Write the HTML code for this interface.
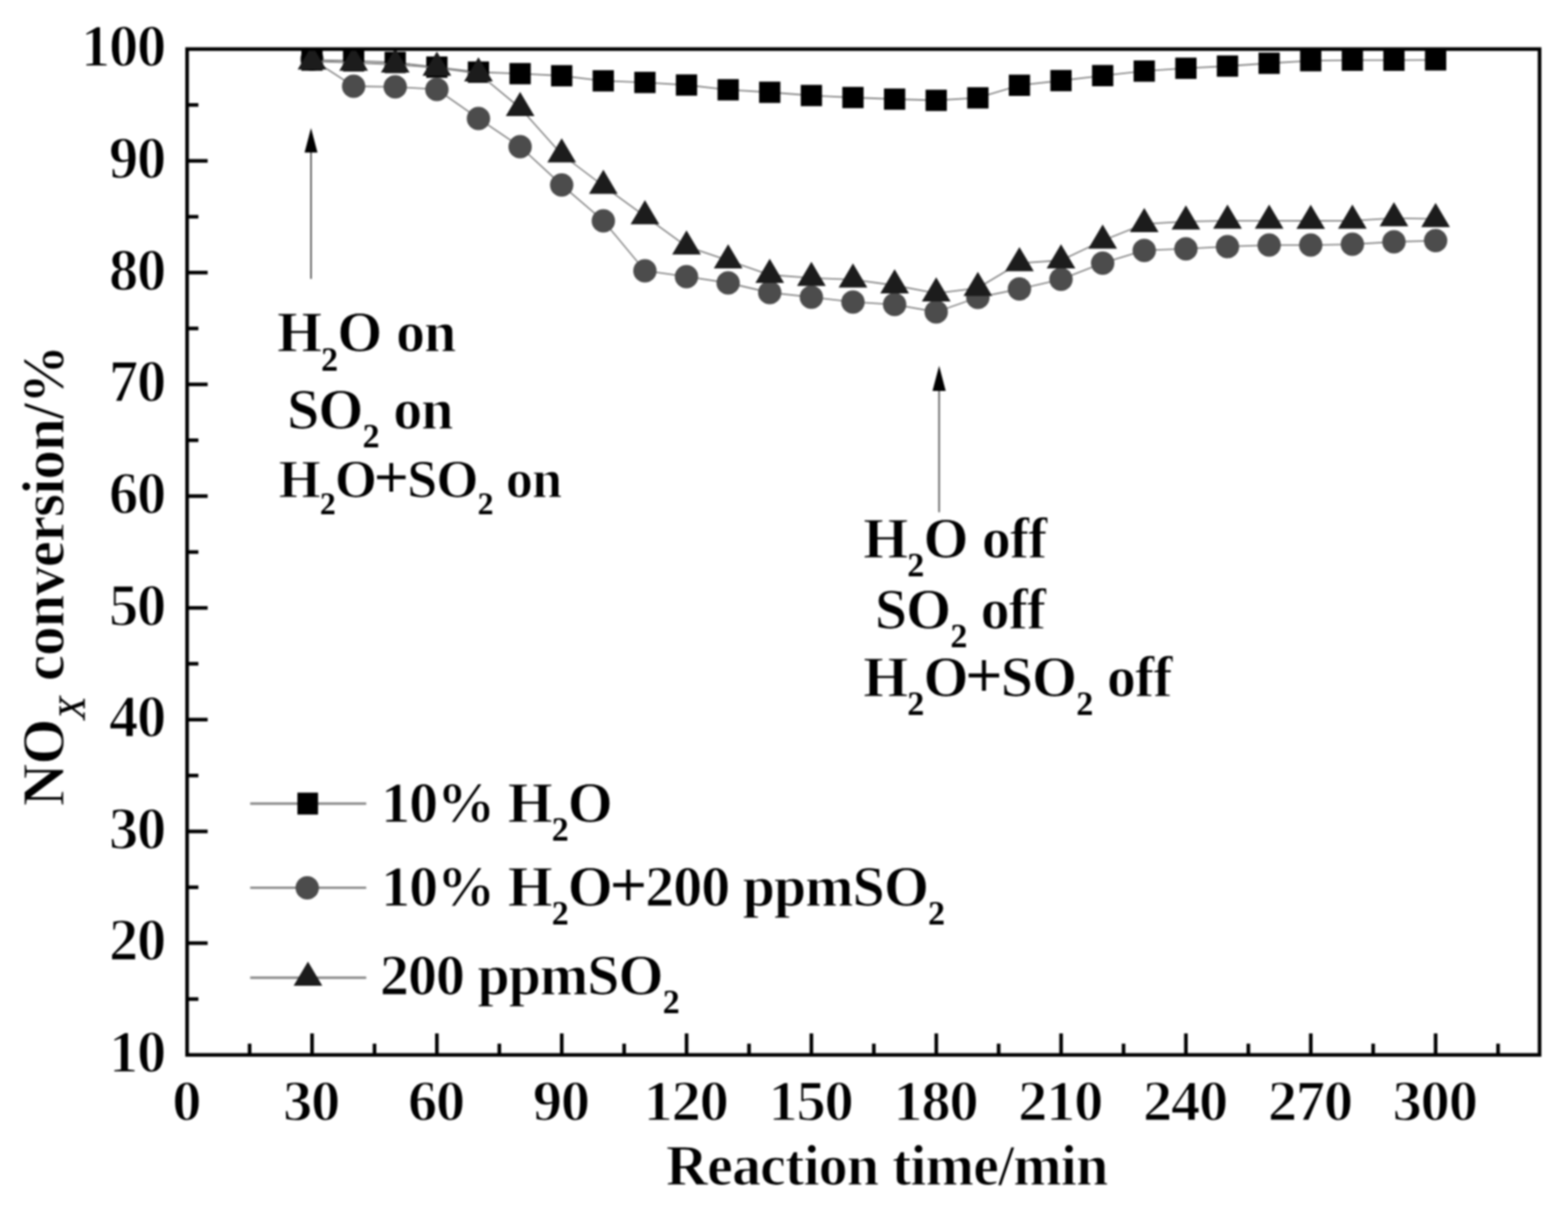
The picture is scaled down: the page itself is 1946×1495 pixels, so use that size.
<!DOCTYPE html>
<html lang="en"><head><meta charset="utf-8"><title>NOx conversion vs reaction time</title>
<style>html,body{margin:0;padding:0;background:#fff}body{width:1946px;height:1495px;overflow:hidden}body>svg{display:block;filter:blur(0.8px)}text{font-family:"Liberation Serif", serif;font-weight:bold;fill:#000;stroke:#fff;stroke-width:1.15px}text.tk{stroke-width:1.5px}</style></head><body>
<svg width="1946" height="1495" viewBox="0 0 1946 1495" role="img" aria-label="NOx conversion versus reaction time">
<rect width="1946" height="1495" fill="#fff"/>
<svg x="232.2" y="60.9" width="1678.5" height="1247.9" viewBox="232.2 60.9 1678.5 1247.9" overflow="hidden">
<polyline fill="none" stroke="#868686" stroke-width="1.8" points="387.2,73.5 438.9,107.0 490.5,107.8 542.2,110.9 593.8,146.9 645.5,181.9 697.1,229.5 748.8,273.9 800.4,336.0 852.0,343.2 903.7,351.0 955.3,363.0 1007.0,368.7 1058.6,374.7 1110.3,377.8 1161.9,387.0 1213.6,369.0 1265.2,358.5 1316.8,346.6 1368.5,326.4 1420.1,310.7 1471.8,308.7 1523.4,305.9 1575.1,304.1 1626.7,304.1 1678.4,303.1 1730.0,300.0 1781.7,298.6"/>
<circle cx="387.2" cy="73.5" r="14.5" fill="#4c4c4c"/>
<circle cx="438.9" cy="107.0" r="14.5" fill="#4c4c4c"/>
<circle cx="490.5" cy="107.8" r="14.5" fill="#4c4c4c"/>
<circle cx="542.2" cy="110.9" r="14.5" fill="#4c4c4c"/>
<circle cx="593.8" cy="146.9" r="14.5" fill="#4c4c4c"/>
<circle cx="645.5" cy="181.9" r="14.5" fill="#4c4c4c"/>
<circle cx="697.1" cy="229.5" r="14.5" fill="#4c4c4c"/>
<circle cx="748.8" cy="273.9" r="14.5" fill="#4c4c4c"/>
<circle cx="800.4" cy="336.0" r="14.5" fill="#4c4c4c"/>
<circle cx="852.0" cy="343.2" r="14.5" fill="#4c4c4c"/>
<circle cx="903.7" cy="351.0" r="14.5" fill="#4c4c4c"/>
<circle cx="955.3" cy="363.0" r="14.5" fill="#4c4c4c"/>
<circle cx="1007.0" cy="368.7" r="14.5" fill="#4c4c4c"/>
<circle cx="1058.6" cy="374.7" r="14.5" fill="#4c4c4c"/>
<circle cx="1110.3" cy="377.8" r="14.5" fill="#4c4c4c"/>
<circle cx="1161.9" cy="387.0" r="14.5" fill="#4c4c4c"/>
<circle cx="1213.6" cy="369.0" r="14.5" fill="#4c4c4c"/>
<circle cx="1265.2" cy="358.5" r="14.5" fill="#4c4c4c"/>
<circle cx="1316.8" cy="346.6" r="14.5" fill="#4c4c4c"/>
<circle cx="1368.5" cy="326.4" r="14.5" fill="#4c4c4c"/>
<circle cx="1420.1" cy="310.7" r="14.5" fill="#4c4c4c"/>
<circle cx="1471.8" cy="308.7" r="14.5" fill="#4c4c4c"/>
<circle cx="1523.4" cy="305.9" r="14.5" fill="#4c4c4c"/>
<circle cx="1575.1" cy="304.1" r="14.5" fill="#4c4c4c"/>
<circle cx="1626.7" cy="304.1" r="14.5" fill="#4c4c4c"/>
<circle cx="1678.4" cy="303.1" r="14.5" fill="#4c4c4c"/>
<circle cx="1730.0" cy="300.0" r="14.5" fill="#4c4c4c"/>
<circle cx="1781.7" cy="298.6" r="14.5" fill="#4c4c4c"/>
<polyline fill="none" stroke="#868686" stroke-width="1.8" points="387.2,74.5 438.9,75.5 490.5,77.5 542.2,83.3 593.8,89.5 645.5,91.4 697.1,94.0 748.8,100.3 800.4,102.3 852.0,105.5 903.7,111.4 955.3,114.5 1007.0,118.5 1058.6,121.0 1110.3,123.0 1161.9,124.5 1213.6,121.4 1265.2,105.8 1316.8,100.0 1368.5,93.8 1420.1,88.2 1471.8,84.7 1523.4,82.0 1575.1,78.5 1626.7,75.3 1678.4,74.7 1730.0,74.7 1781.7,74.3"/>
<rect x="374.0" y="61.3" width="26.4" height="26.4" fill="#000000"/>
<rect x="425.7" y="62.3" width="26.4" height="26.4" fill="#000000"/>
<rect x="477.3" y="64.3" width="26.4" height="26.4" fill="#000000"/>
<rect x="529.0" y="70.1" width="26.4" height="26.4" fill="#000000"/>
<rect x="580.6" y="76.3" width="26.4" height="26.4" fill="#000000"/>
<rect x="632.3" y="78.2" width="26.4" height="26.4" fill="#000000"/>
<rect x="683.9" y="80.8" width="26.4" height="26.4" fill="#000000"/>
<rect x="735.5" y="87.1" width="26.4" height="26.4" fill="#000000"/>
<rect x="787.2" y="89.1" width="26.4" height="26.4" fill="#000000"/>
<rect x="838.8" y="92.3" width="26.4" height="26.4" fill="#000000"/>
<rect x="890.5" y="98.2" width="26.4" height="26.4" fill="#000000"/>
<rect x="942.1" y="101.3" width="26.4" height="26.4" fill="#000000"/>
<rect x="993.8" y="105.3" width="26.4" height="26.4" fill="#000000"/>
<rect x="1045.4" y="107.8" width="26.4" height="26.4" fill="#000000"/>
<rect x="1097.1" y="109.8" width="26.4" height="26.4" fill="#000000"/>
<rect x="1148.7" y="111.3" width="26.4" height="26.4" fill="#000000"/>
<rect x="1200.4" y="108.2" width="26.4" height="26.4" fill="#000000"/>
<rect x="1252.0" y="92.6" width="26.4" height="26.4" fill="#000000"/>
<rect x="1303.6" y="86.8" width="26.4" height="26.4" fill="#000000"/>
<rect x="1355.3" y="80.6" width="26.4" height="26.4" fill="#000000"/>
<rect x="1406.9" y="75.0" width="26.4" height="26.4" fill="#000000"/>
<rect x="1458.6" y="71.5" width="26.4" height="26.4" fill="#000000"/>
<rect x="1510.2" y="68.8" width="26.4" height="26.4" fill="#000000"/>
<rect x="1561.9" y="65.3" width="26.4" height="26.4" fill="#000000"/>
<rect x="1613.5" y="62.1" width="26.4" height="26.4" fill="#000000"/>
<rect x="1665.2" y="61.5" width="26.4" height="26.4" fill="#000000"/>
<rect x="1716.8" y="61.5" width="26.4" height="26.4" fill="#000000"/>
<rect x="1768.5" y="61.1" width="26.4" height="26.4" fill="#000000"/>
<polyline fill="none" stroke="#868686" stroke-width="1.8" points="387.2,76.2 438.9,77.8 490.5,80.0 542.2,84.0 593.8,91.0 645.5,134.0 697.1,191.6 748.8,230.6 800.4,268.3 852.0,305.7 903.7,323.1 955.3,341.0 1007.0,344.8 1058.6,346.8 1110.3,354.0 1161.9,363.9 1213.6,357.3 1265.2,326.5 1316.8,323.0 1368.5,298.5 1420.1,277.9 1471.8,274.8 1523.4,273.8 1575.1,273.8 1626.7,274.0 1678.4,273.8 1730.0,270.7 1781.7,271.7"/>
<polygon points="387.2,56.2 369.4,86.2 405.0,86.2" fill="#1c1c1c"/>
<polygon points="438.9,57.8 421.1,87.8 456.7,87.8" fill="#1c1c1c"/>
<polygon points="490.5,60.0 472.7,90.0 508.3,90.0" fill="#1c1c1c"/>
<polygon points="542.2,64.0 524.4,94.0 560.0,94.0" fill="#1c1c1c"/>
<polygon points="593.8,71.0 576.0,101.0 611.6,101.0" fill="#1c1c1c"/>
<polygon points="645.5,114.0 627.7,144.0 663.3,144.0" fill="#1c1c1c"/>
<polygon points="697.1,171.6 679.3,201.6 714.9,201.6" fill="#1c1c1c"/>
<polygon points="748.8,210.6 731.0,240.6 766.5,240.6" fill="#1c1c1c"/>
<polygon points="800.4,248.3 782.6,278.3 818.2,278.3" fill="#1c1c1c"/>
<polygon points="852.0,285.7 834.2,315.7 869.8,315.7" fill="#1c1c1c"/>
<polygon points="903.7,303.1 885.9,333.1 921.5,333.1" fill="#1c1c1c"/>
<polygon points="955.3,321.0 937.5,351.0 973.1,351.0" fill="#1c1c1c"/>
<polygon points="1007.0,324.8 989.2,354.8 1024.8,354.8" fill="#1c1c1c"/>
<polygon points="1058.6,326.8 1040.8,356.8 1076.4,356.8" fill="#1c1c1c"/>
<polygon points="1110.3,334.0 1092.5,364.0 1128.1,364.0" fill="#1c1c1c"/>
<polygon points="1161.9,343.9 1144.1,373.9 1179.7,373.9" fill="#1c1c1c"/>
<polygon points="1213.6,337.3 1195.8,367.3 1231.4,367.3" fill="#1c1c1c"/>
<polygon points="1265.2,306.5 1247.4,336.5 1283.0,336.5" fill="#1c1c1c"/>
<polygon points="1316.8,303.0 1299.0,333.0 1334.6,333.0" fill="#1c1c1c"/>
<polygon points="1368.5,278.5 1350.7,308.5 1386.3,308.5" fill="#1c1c1c"/>
<polygon points="1420.1,257.9 1402.3,287.9 1437.9,287.9" fill="#1c1c1c"/>
<polygon points="1471.8,254.8 1454.0,284.8 1489.6,284.8" fill="#1c1c1c"/>
<polygon points="1523.4,253.8 1505.6,283.8 1541.2,283.8" fill="#1c1c1c"/>
<polygon points="1575.1,253.8 1557.3,283.8 1592.9,283.8" fill="#1c1c1c"/>
<polygon points="1626.7,254.0 1608.9,284.0 1644.5,284.0" fill="#1c1c1c"/>
<polygon points="1678.4,253.8 1660.6,283.8 1696.2,283.8" fill="#1c1c1c"/>
<polygon points="1730.0,250.7 1712.2,280.7 1747.8,280.7" fill="#1c1c1c"/>
<polygon points="1781.7,251.7 1763.9,281.7 1799.5,281.7" fill="#1c1c1c"/>
</svg>
<g stroke="#000" stroke-width="4.5" fill="none" stroke-linecap="butt">
<rect x="232.2" y="60.9" width="1678.5" height="1247.9"/>
<line x1="232.2" y1="1239.5" x2="246.2" y2="1239.5" stroke-width="4.5"/>
<line x1="232.2" y1="1170.1" x2="257.7" y2="1170.1" stroke-width="4.5"/>
<line x1="232.2" y1="1100.8" x2="246.2" y2="1100.8" stroke-width="4.5"/>
<line x1="232.2" y1="1031.5" x2="257.7" y2="1031.5" stroke-width="4.5"/>
<line x1="232.2" y1="962.2" x2="246.2" y2="962.2" stroke-width="4.5"/>
<line x1="232.2" y1="892.8" x2="257.7" y2="892.8" stroke-width="4.5"/>
<line x1="232.2" y1="823.5" x2="246.2" y2="823.5" stroke-width="4.5"/>
<line x1="232.2" y1="754.2" x2="257.7" y2="754.2" stroke-width="4.5"/>
<line x1="232.2" y1="684.9" x2="246.2" y2="684.9" stroke-width="4.5"/>
<line x1="232.2" y1="615.5" x2="257.7" y2="615.5" stroke-width="4.5"/>
<line x1="232.2" y1="546.2" x2="246.2" y2="546.2" stroke-width="4.5"/>
<line x1="232.2" y1="476.9" x2="257.7" y2="476.9" stroke-width="4.5"/>
<line x1="232.2" y1="407.5" x2="246.2" y2="407.5" stroke-width="4.5"/>
<line x1="232.2" y1="338.2" x2="257.7" y2="338.2" stroke-width="4.5"/>
<line x1="232.2" y1="268.9" x2="246.2" y2="268.9" stroke-width="4.5"/>
<line x1="232.2" y1="199.6" x2="257.7" y2="199.6" stroke-width="4.5"/>
<line x1="232.2" y1="130.2" x2="246.2" y2="130.2" stroke-width="4.5"/>
<line x1="309.8" y1="1308.8" x2="309.8" y2="1294.8" stroke-width="4.5"/>
<line x1="387.3" y1="1308.8" x2="387.3" y2="1282.1" stroke-width="4.5"/>
<line x1="464.8" y1="1308.8" x2="464.8" y2="1294.8" stroke-width="4.5"/>
<line x1="542.2" y1="1308.8" x2="542.2" y2="1282.1" stroke-width="4.5"/>
<line x1="619.7" y1="1308.8" x2="619.7" y2="1294.8" stroke-width="4.5"/>
<line x1="697.2" y1="1308.8" x2="697.2" y2="1282.1" stroke-width="4.5"/>
<line x1="774.6" y1="1308.8" x2="774.6" y2="1294.8" stroke-width="4.5"/>
<line x1="852.1" y1="1308.8" x2="852.1" y2="1282.1" stroke-width="4.5"/>
<line x1="929.6" y1="1308.8" x2="929.6" y2="1294.8" stroke-width="4.5"/>
<line x1="1007.0" y1="1308.8" x2="1007.0" y2="1282.1" stroke-width="4.5"/>
<line x1="1084.5" y1="1308.8" x2="1084.5" y2="1294.8" stroke-width="4.5"/>
<line x1="1162.0" y1="1308.8" x2="1162.0" y2="1282.1" stroke-width="4.5"/>
<line x1="1239.4" y1="1308.8" x2="1239.4" y2="1294.8" stroke-width="4.5"/>
<line x1="1316.9" y1="1308.8" x2="1316.9" y2="1282.1" stroke-width="4.5"/>
<line x1="1394.4" y1="1308.8" x2="1394.4" y2="1294.8" stroke-width="4.5"/>
<line x1="1471.8" y1="1308.8" x2="1471.8" y2="1282.1" stroke-width="4.5"/>
<line x1="1549.3" y1="1308.8" x2="1549.3" y2="1294.8" stroke-width="4.5"/>
<line x1="1626.8" y1="1308.8" x2="1626.8" y2="1282.1" stroke-width="4.5"/>
<line x1="1704.2" y1="1308.8" x2="1704.2" y2="1294.8" stroke-width="4.5"/>
<line x1="1781.7" y1="1308.8" x2="1781.7" y2="1282.1" stroke-width="4.5"/>
<line x1="1859.2" y1="1308.8" x2="1859.2" y2="1294.8" stroke-width="4.5"/>
</g>
<line x1="386.0" y1="188.3" x2="386.0" y2="346.0" stroke="#5a5a5a" stroke-width="2"/>
<polygon points="386.0,158.8 378.0,189.3 394.0,189.3" fill="#000"/>
<line x1="1165.5" y1="484.0" x2="1165.5" y2="635.5" stroke="#5a5a5a" stroke-width="2"/>
<polygon points="1165.5,453.8 1157.3,485.0 1173.7,485.0" fill="#000"/>
<text transform="translate(204.8,1330.1) scale(1,1.025)" font-size="72.8" text-anchor="end" xml:space="preserve" class="tk" letter-spacing="-1.63">10</text>
<text transform="translate(204.8,1191.4) scale(1,1.025)" font-size="72.8" text-anchor="end" xml:space="preserve" class="tk" letter-spacing="-1.63">20</text>
<text transform="translate(204.8,1052.8) scale(1,1.025)" font-size="72.8" text-anchor="end" xml:space="preserve" class="tk" letter-spacing="-1.63">30</text>
<text transform="translate(204.8,914.1) scale(1,1.025)" font-size="72.8" text-anchor="end" xml:space="preserve" class="tk" letter-spacing="-1.63">40</text>
<text transform="translate(204.8,775.5) scale(1,1.025)" font-size="72.8" text-anchor="end" xml:space="preserve" class="tk" letter-spacing="-1.63">50</text>
<text transform="translate(204.8,636.8) scale(1,1.025)" font-size="72.8" text-anchor="end" xml:space="preserve" class="tk" letter-spacing="-1.63">60</text>
<text transform="translate(204.8,498.2) scale(1,1.025)" font-size="72.8" text-anchor="end" xml:space="preserve" class="tk" letter-spacing="-1.63">70</text>
<text transform="translate(204.8,359.5) scale(1,1.025)" font-size="72.8" text-anchor="end" xml:space="preserve" class="tk" letter-spacing="-1.63">80</text>
<text transform="translate(204.8,220.9) scale(1,1.025)" font-size="72.8" text-anchor="end" xml:space="preserve" class="tk" letter-spacing="-1.63">90</text>
<text transform="translate(204.8,82.2) scale(1,1.025)" font-size="72.8" text-anchor="end" xml:space="preserve" class="tk" letter-spacing="-1.63">100</text>
<text x="231.2" y="1390.0" font-size="72.8" text-anchor="middle" xml:space="preserve" class="tk" letter-spacing="-1.63">0</text>
<text x="386.1" y="1390.0" font-size="72.8" text-anchor="middle" xml:space="preserve" class="tk" letter-spacing="-1.63">30</text>
<text x="541.0" y="1390.0" font-size="72.8" text-anchor="middle" xml:space="preserve" class="tk" letter-spacing="-1.63">60</text>
<text x="696.0" y="1390.0" font-size="72.8" text-anchor="middle" xml:space="preserve" class="tk" letter-spacing="-1.63">90</text>
<text x="850.9" y="1390.0" font-size="72.8" text-anchor="middle" xml:space="preserve" class="tk" letter-spacing="-1.63">120</text>
<text x="1005.8" y="1390.0" font-size="72.8" text-anchor="middle" xml:space="preserve" class="tk" letter-spacing="-1.63">150</text>
<text x="1160.8" y="1390.0" font-size="72.8" text-anchor="middle" xml:space="preserve" class="tk" letter-spacing="-1.63">180</text>
<text x="1315.7" y="1390.0" font-size="72.8" text-anchor="middle" xml:space="preserve" class="tk" letter-spacing="-1.63">210</text>
<text x="1470.6" y="1390.0" font-size="72.8" text-anchor="middle" xml:space="preserve" class="tk" letter-spacing="-1.63">240</text>
<text x="1625.6" y="1390.0" font-size="72.8" text-anchor="middle" xml:space="preserve" class="tk" letter-spacing="-1.63">270</text>
<text x="1780.5" y="1390.0" font-size="72.8" text-anchor="middle" xml:space="preserve" class="tk" letter-spacing="-1.63">300</text>
<text x="1100.5" y="1470.3" font-size="72.1" text-anchor="middle" xml:space="preserve" letter-spacing="-1.10">Reaction time/min</text>
<g transform="translate(79.2,714.8) rotate(-90)">
<text x="0" y="0" font-size="73.1" letter-spacing="-0.95" text-anchor="middle" xml:space="preserve">NO<tspan font-size="46" dy="26" font-style="italic" font-weight="normal" stroke="#000" stroke-width="0.5">X</tspan><tspan dy="-26" dx="3.4" letter-spacing="-1.22"> conversion/%</tspan></text>
</g>
<text x="343.8" y="436.3" font-size="72.1" text-anchor="start" xml:space="preserve" letter-spacing="-1.30">H<tspan dy="23.4" font-size="42.2" stroke="none">2</tspan><tspan dy="-23.4">O</tspan><tspan dx="1.5"> on</tspan></text>
<text x="356.3" y="532.0" font-size="72.1" text-anchor="start" xml:space="preserve" letter-spacing="-1.30">SO<tspan dy="23.4" font-size="42.2" stroke="none">2</tspan><tspan dy="-23.4" dx="1.5"> on</tspan></text>
<text x="345.8" y="616.5" font-size="67.4" text-anchor="start" xml:space="preserve" letter-spacing="-1.22">H<tspan dy="21.9" font-size="39.4" stroke="none">2</tspan><tspan dy="-21.9">O</tspan><tspan dx="-2.0" font-size="74.1" font-weight="normal" stroke="#000" stroke-width="1">+</tspan>SO<tspan dy="21.9" font-size="39.4" stroke="none">2</tspan><tspan dy="-21.9" dx="1.0"> on</tspan></text>
<text x="1071.3" y="691.5" font-size="72.1" text-anchor="start" xml:space="preserve" letter-spacing="-1.30">H<tspan dy="23.4" font-size="42.2" stroke="none">2</tspan><tspan dy="-23.4">O</tspan><tspan dx="1.0"> off</tspan></text>
<text x="1085.8" y="779.5" font-size="72.1" text-anchor="start" xml:space="preserve" letter-spacing="-1.30">SO<tspan dy="23.4" font-size="42.2" stroke="none">2</tspan><tspan dy="-23.4" dx="1.0"> off</tspan></text>
<text x="1071.3" y="863.5" font-size="72.1" text-anchor="start" xml:space="preserve" letter-spacing="-1.30">H<tspan dy="23.4" font-size="42.2" stroke="none">2</tspan><tspan dy="-23.4">O</tspan><tspan dx="-2.0" font-size="79.3" font-weight="normal" stroke="#000" stroke-width="1">+</tspan>SO<tspan dy="23.4" font-size="42.2" stroke="none">2</tspan><tspan dy="-23.4" dx="1.5"> off</tspan></text>
<line x1="310.5" y1="997.0" x2="454.5" y2="997.0" stroke="#868686" stroke-width="2.8"/>
<rect x="369.1" y="983.4" width="25.6" height="27.2" fill="#000000"/>
<line x1="310.5" y1="1101.4" x2="454.5" y2="1101.4" stroke="#868686" stroke-width="2.8"/>
<circle cx="381.3" cy="1101.5" r="14.5" fill="#4c4c4c"/>
<line x1="310.5" y1="1213.0" x2="454.5" y2="1213.0" stroke="#868686" stroke-width="2.8"/>
<polygon points="382.2,1193.0 364.4,1223.0 400.0,1223.0" fill="#1c1c1c"/>
<text x="473.0" y="1019.5" font-size="72.1" text-anchor="start" xml:space="preserve" letter-spacing="-1.30">10% H<tspan dy="23.4" font-size="42.2" stroke="none">2</tspan><tspan dy="-23.4">O</tspan></text>
<text x="473.0" y="1124.0" font-size="72.1" text-anchor="start" xml:space="preserve" letter-spacing="-1.30">10% H<tspan dy="23.4" font-size="42.2" stroke="none">2</tspan><tspan dy="-23.4">O</tspan><tspan dx="-2.0" font-size="79.3" font-weight="normal" stroke="#000" stroke-width="1">+</tspan>200 ppmSO<tspan dy="23.4" font-size="42.2" stroke="none">2</tspan></text>
<text x="471.5" y="1233.8" font-size="72.1" text-anchor="start" xml:space="preserve" letter-spacing="-1.30">200 ppmSO<tspan dy="23.4" font-size="42.2" stroke="none">2</tspan></text>
</svg></body></html>
